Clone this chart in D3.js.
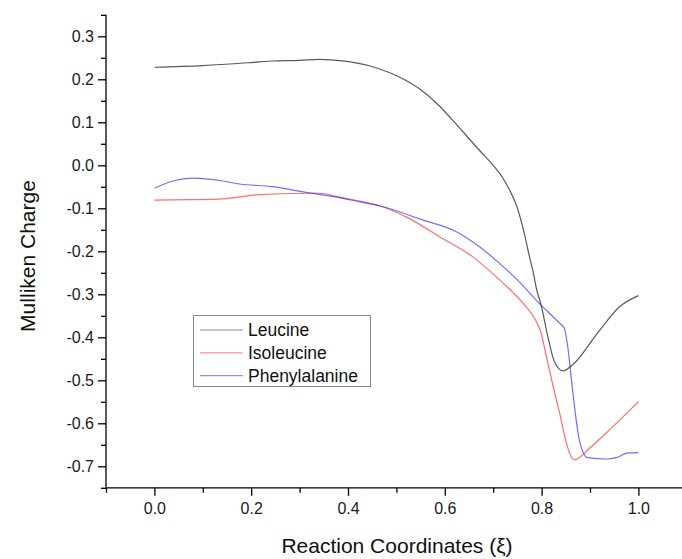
<!DOCTYPE html>
<html><head><meta charset="utf-8">
<script src="https://cdn.jsdelivr.net/npm/d3@7"></script>
<style>body{margin:0;background:#fff}svg{display:block;font-family:"Liberation Sans",Arial,sans-serif}</style>
</head><body><svg id="c" width="682" height="559"></svg>
<script>
const seriesNames = ["Leucine", "Isoleucine", "Phenylalanine"];
const seriesColors = ["#222222", "#ff2020", "#2020ff"];
const xLeucine = [0, 0.1, 0.2, 0.244, 0.3, 0.341, 0.389, 0.444, 0.52, 0.5475, 0.589, 0.616, 0.671, 0.70, 0.72, 0.735, 0.747, 0.761, 0.775, 0.782, 0.79, 0.799, 0.813, 0.826, 0.844, 0.864, 0.919, 0.961, 1.0];
const yLeucine = [0.228, 0.232, 0.239, 0.2425, 0.244, 0.2465, 0.243, 0.2316, 0.197, 0.178, 0.138, 0.105, 0.0356, 0.0, -0.03, -0.06, -0.09, -0.143, -0.213, -0.245, -0.29, -0.325, -0.399, -0.455, -0.478, -0.464, -0.385, -0.329, -0.303];
const xIsoleucine = [0, 0.07, 0.141, 0.21, 0.313, 0.341, 0.382, 0.424, 0.465, 0.52, 0.589, 0.658, 0.706, 0.74, 0.765, 0.79, 0.799, 0.809, 0.823, 0.837, 0.851, 0.86, 0.868, 0.899, 0.933, 0.968, 1.0];
const yIsoleucine = [-0.081, -0.08, -0.078, -0.069, -0.065, -0.065, -0.074, -0.083, -0.094, -0.12, -0.166, -0.213, -0.259, -0.295, -0.325, -0.365, -0.39, -0.44, -0.51, -0.575, -0.645, -0.675, -0.685, -0.658, -0.623, -0.585, -0.55];
const xPhenylalanine = [0, 0.04, 0.079, 0.141, 0.176, 0.244, 0.313, 0.382, 0.424, 0.465, 0.554, 0.623, 0.671, 0.713, 0.754, 0.795, 0.837, 0.847, 0.854, 0.864, 0.878, 0.895, 0.933, 0.954, 0.978, 1.0];
const yPhenylalanine = [-0.0535, -0.036, -0.030, -0.0365, -0.0435, -0.0498, -0.063, -0.075, -0.085, -0.094, -0.127, -0.154, -0.189, -0.228, -0.271, -0.321, -0.367, -0.379, -0.422, -0.523, -0.639, -0.68, -0.683, -0.68, -0.669, -0.668];
const xTickLabels = ["0.0", "0.2", "0.4", "0.6", "0.8", "1.0"];
const yTickLabels = ["0.3", "0.2", "0.1", "0.0", "-0.1", "-0.2", "-0.3", "-0.4", "-0.5", "-0.6", "-0.7"];

const svg = d3.select("#c");
const x = d3.scaleLinear().domain([-0.1, 1.1]).range([106, 106 + 1.2 * 484]);
const y = d3.scaleLinear().domain([-0.75, 0.35]).range([487.8, 14.8]);

const xMajor = xTickLabels.map(Number);
const xMinor = d3.range(-1, 12, 2).map(d => d / 10);
const yMajor = yTickLabels.map(Number);
const yMinor = d3.range(-15, 8, 2).map(d => d / 20);
const FONT = "Liberation Sans, Arial, sans-serif";

const gx = svg.append("g").attr("transform", `translate(0,${y(-0.75)})`);
gx.append("line").attr("x1", x(-0.1)).attr("x2", 682).attr("stroke", "#000").attr("stroke-width", 1.3);
gx.call(g => {
  const a = g.append("g").call(d3.axisBottom(x).tickValues(xMajor).tickFormat((d, i) => xTickLabels[i]).tickSize(8).tickPadding(7));
  a.select(".domain").remove();
  a.selectAll("line").attr("stroke-width", 1.3);
  a.selectAll("text").attr("font-size", 16).attr("fill", "#1a1a1a").attr("font-family", FONT);
  const m = g.append("g").call(d3.axisBottom(x).tickValues(xMinor).tickFormat("").tickSize(5));
  m.select(".domain").remove();
  m.selectAll("line").attr("stroke-width", 1.3);
});

const gy = svg.append("g").attr("transform", `translate(${x(-0.1)},0)`);
gy.append("line").attr("y1", y(0.35)).attr("y2", y(-0.75)).attr("stroke", "#000").attr("stroke-width", 1.3);
gy.call(g => {
  const a = g.append("g").call(d3.axisLeft(y).tickValues(yMajor).tickFormat((d, i) => yTickLabels[i]).tickSize(8).tickPadding(4));
  a.select(".domain").remove();
  a.selectAll("line").attr("stroke-width", 1.3);
  a.selectAll("text").attr("font-size", 16).attr("fill", "#1a1a1a").attr("font-family", FONT);
  const m = g.append("g").call(d3.axisLeft(y).tickValues(yMinor).tickFormat("").tickSize(5));
  m.select(".domain").remove();
  m.selectAll("line").attr("stroke-width", 1.3);
});

svg.append("text").attr("x", 397).attr("y", 553).attr("text-anchor", "middle")
  .attr("font-size", 21).attr("fill", "#111").text("Reaction Coordinates (ξ)");
svg.append("text").attr("transform", "translate(35,256) rotate(-90)").attr("text-anchor", "middle")
  .attr("font-size", 21).attr("fill", "#111").text("Mulliken Charge");

const xs = [xLeucine, xIsoleucine, xPhenylalanine];
const ys = [yLeucine, yIsoleucine, yPhenylalanine];
const line = d3.line().x(d => x(d[0])).y(d => y(d[1])).curve(d3.curveMonotoneX);
seriesNames.forEach((name, i) => {
  const pts = xs[i].map((v, j) => [v, ys[i][j]]);
  svg.append("path").datum(pts).attr("d", line).attr("fill", "none")
    .attr("stroke", seriesColors[i]).attr("stroke-width", 1.2)
    .attr("stroke-opacity", i === 0 ? 0.75 : 0.65);
});

const lg = svg.append("g");
lg.append("rect").attr("x", 193.5).attr("y", 315.5).attr("width", 177).attr("height", 71)
  .attr("fill", "#fff").attr("stroke", "#888").attr("stroke-width", 1);
seriesNames.forEach((name, i) => {
  const yy = 330 + i * 22.8;
  lg.append("line").attr("x1", 200).attr("x2", 243).attr("y1", yy).attr("y2", yy)
    .attr("stroke", seriesColors[i]).attr("stroke-width", 1.2).attr("stroke-opacity", 0.5);
  lg.append("text").attr("x", 248).attr("y", yy + 6).attr("font-size", 17.5).attr("fill", "#111").text(name);
});
</script></body></html>
